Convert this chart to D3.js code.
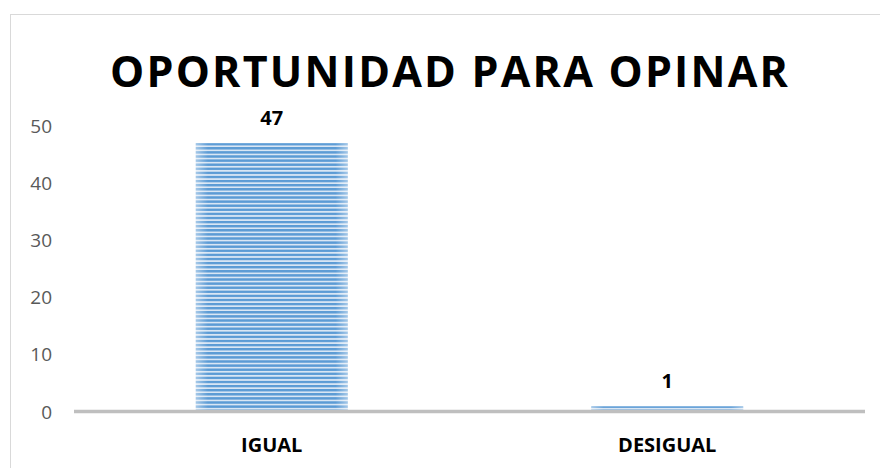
<!DOCTYPE html>
<html>
<head>
<meta charset="utf-8">
<script src="https://cdn.jsdelivr.net/npm/d3@7"></script>
<style>
  body { margin: 0; background: #fff; }
</style>
</head>
<body>
<div id="chart"></div>
<script>
const categories = ['IGUAL', 'DESIGUAL']
const values = [47, 1]
const yTicks = [0, 10, 20, 30, 40, 50]
const title = 'OPORTUNIDAD PARA OPINAR'

const width = 880
const height = 468
const plot = { left: 74, right: 865, top: 126, bottom: 412 }

const svg = d3.select('#chart').append('svg')
    .attr('width', width)
    .attr('height', height)

// chart border
svg.append('rect')
    .attr('x', 10.5).attr('y', 14.5)
    .attr('width', width).attr('height', height)
    .attr('fill', 'none')
    .attr('stroke', '#d9d9d9')

const defs = svg.append('defs')
const pat = defs.append('pattern')
    .attr('id', 'stripes')
    .attr('patternUnits', 'userSpaceOnUse')
    .attr('width', 8).attr('height', 4.1)
    .attr('y', 143)
pat.append('rect').attr('width', 8).attr('height', 4.1).attr('fill', '#d9e6f4')
pat.append('rect').attr('width', 8).attr('height', 2.4).attr('fill', '#5b9bd5')

const glow = defs.append('linearGradient').attr('id', 'glow')
    .attr('x1', '0%').attr('x2', '100%').attr('y1', '0%').attr('y2', '0%')
glow.append('stop').attr('offset', '0%').attr('stop-color', '#fff').attr('stop-opacity', 0.45)
glow.append('stop').attr('offset', '8%').attr('stop-color', '#fff').attr('stop-opacity', 0)
glow.append('stop').attr('offset', '92%').attr('stop-color', '#fff').attr('stop-opacity', 0)
glow.append('stop').attr('offset', '100%').attr('stop-color', '#fff').attr('stop-opacity', 0.45)

const x = d3.scaleBand()
    .domain(categories)
    .range([plot.left, plot.right])
    .paddingInner(0.616)
    .paddingOuter(0.308)
const y = d3.scaleLinear().domain([0, 50]).range([plot.bottom, plot.top])

const data = categories.map((c, i) => ({ cat: c, value: values[i] }))

// title
svg.append('text')
    .text(title)
    .attr('x', 110).attr('y', 87)
    .attr('textLength', 678)
    .attr('lengthAdjust', 'spacing')
    .attr('font-family', 'Open Sans, sans-serif')
    .attr('font-weight', 'bold')
    .attr('font-size', 43)
    .attr('fill', '#000')

// y tick labels
svg.selectAll('.ytick').data(yTicks).enter().append('text')
    .attr('class', 'ytick')
    .text(d => d)
    .attr('x', 52)
    .attr('y', d => y(d))
    .attr('dy', '0.35em')
    .attr('text-anchor', 'end')
    .attr('font-family', 'Open Sans, sans-serif')
    .attr('font-size', 19)
    .attr('fill', '#595959')

// bars
svg.selectAll('.bar').data(data).enter().append('rect')
    .attr('class', 'bar')
    .attr('x', d => x(d.cat))
    .attr('y', d => y(d.value))
    .attr('width', x.bandwidth())
    .attr('height', d => y(0) - y(d.value))
    .attr('fill', 'url(#stripes)')

svg.selectAll('.barglow').data(data).enter().append('rect')
    .attr('class', 'barglow')
    .attr('x', d => x(d.cat))
    .attr('y', d => y(d.value))
    .attr('width', x.bandwidth())
    .attr('height', d => y(0) - y(d.value))
    .attr('fill', 'url(#glow)')

// x axis line
svg.append('line')
    .attr('x1', plot.left).attr('x2', plot.right)
    .attr('y1', y(0) - 0.5).attr('y2', y(0) - 0.5)
    .attr('stroke', '#bfbfbf')
    .attr('stroke-width', 3.5)

// value labels
svg.selectAll('.val').data(data).enter().append('text')
    .attr('class', 'val')
    .text(d => d.value)
    .attr('x', d => x(d.cat) + x.bandwidth() / 2)
    .attr('y', d => y(d.value) - 18)
    .attr('text-anchor', 'middle')
    .attr('font-family', 'Open Sans, sans-serif')
    .attr('font-weight', 'bold')
    .attr('font-size', 20)
    .attr('fill', '#000')

// category labels
svg.selectAll('.cat').data(categories).enter().append('text')
    .attr('class', 'cat')
    .text(d => d)
    .attr('x', d => x(d) + x.bandwidth() / 2)
    .attr('y', 452)
    .attr('text-anchor', 'middle')
    .attr('font-family', 'Open Sans, sans-serif')
    .attr('font-weight', 'bold')
    .attr('font-size', 20)
    .attr('fill', '#000')
</script>
</body>
</html>
